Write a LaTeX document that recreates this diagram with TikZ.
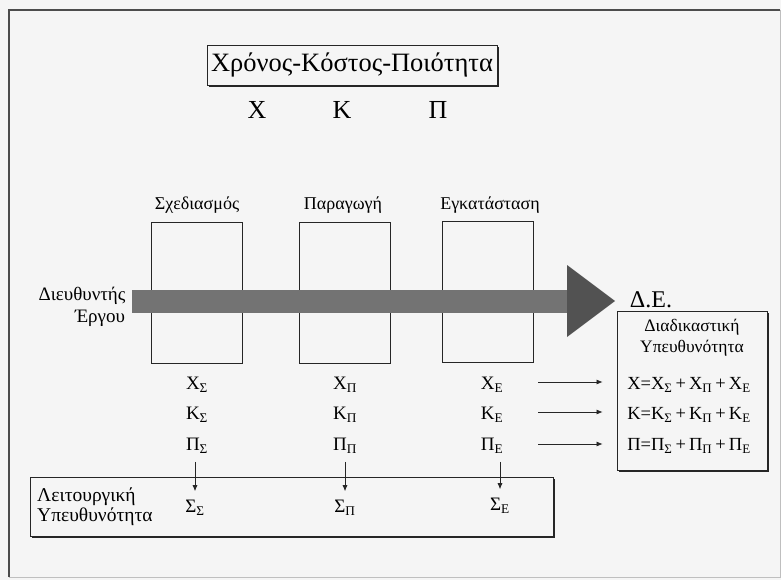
\documentclass[tikz,border=0pt]{standalone}
\usepackage{fontspec}
\setmainfont{Liberation Serif}
\usetikzlibrary{shadows,arrows.meta}
\tikzset{
  boxline/.style={draw=black!85, line width=0.8pt},
  shbox/.style={boxline, fill=black!4, drop shadow={shadow xshift=1.6pt, shadow yshift=-1.6pt, fill=black!85, opacity=1}},
  phasebox/.style={boxline, minimum width=91pt, minimum height=141pt, inner sep=0pt},
  txt/.style={inner sep=0pt, font=\fontsize{19}{22}\selectfont},
  eqtxt/.style={inner sep=0pt, font=\fontsize{18.5}{22}\selectfont},
  small/.style={inner sep=0pt, font=\fontsize{18}{21}\selectfont},
  big/.style={inner sep=0pt, font=\fontsize{26}{30}\selectfont},
  arr/.style={draw=black!85, line width=0.7pt, -{Latex[length=6pt,width=5pt]}},
}
\begin{document}
\begin{tikzpicture}[x=1pt,y=-1pt]
\fill[black!4] (0,0) rectangle (781,580);
\useasboundingbox (0,0) rectangle (781,580);
% outer frame
\draw[black!70, line width=1.1pt] (9,577) -- (9,10) -- (780,10);
\draw[black!25, line width=0.8pt] (780,10) -- (780,577) -- (9,577);

% title
\node[shbox, minimum width=290pt, minimum height=40pt, inner sep=0pt, font=\fontsize{26.5}{30}\selectfont] (title) at (352,65) {Χρόνος-Κόστος-Ποιότητα};
\node[big] (X) at (257,110) {X};
\node[big] (K) at (342,110) {K};
\node[big] (P) at (438,110) {Π};

% phases
\node[small] (lS) at (197,205) {Σχεδιασμός};
\node[small] (lP) at (343,205) {Παραγωγή};
\node[small] (lE) at (490,205) {Εγκατάσταση};
\node[phasebox] (bS) at (196.5,292.5) {};
\node[phasebox] (bP) at (344.5,292.5) {};
\node[phasebox] (bE) at (487.5,291.5) {};

% big arrow
\fill[black!55] (132,290) rectangle (568,313);
\fill[black!68] (567,265) -- (615,301) -- (567,337) -- cycle;

\node[inner sep=0pt, font=\fontsize{19}{22}\selectfont] (dir1) at (82,296) {Διευθυντής};
\node[inner sep=0pt, font=\fontsize{19}{22}\selectfont] (dir2) at (100,318) {Έργου};
\node[inner sep=0pt, font=\fontsize{24}{28}\selectfont] (DE) at (651,300) {Δ.Ε.};

% right box
\node[shbox, minimum width=150pt, minimum height=159pt, inner sep=0pt] (rbox) at (692,390.5) {};
\node[inner sep=0pt, font=\fontsize{17.5}{20}\selectfont] (r1) at (692,327) {Διαδικαστική};
\node[inner sep=0pt, font=\fontsize{17.5}{20}\selectfont] (r2) at (692,348) {Υπευθυνότητα};
\node[eqtxt] (eqX) at (689,385) {X=X\textsubscript{Σ}\,+\,X\textsubscript{Π}\,+\,X\textsubscript{E}};
\node[eqtxt] (eqK) at (689,415) {K=K\textsubscript{Σ}\,+\,K\textsubscript{Π}\,+\,K\textsubscript{E}};
\node[eqtxt] (eqP) at (689,446) {Π=Π\textsubscript{Σ}\,+\,Π\textsubscript{Π}\,+\,Π\textsubscript{E}};

% column values
\node[txt] (XS) at (197,385) {X\textsubscript{Σ}};
\node[txt] (KS) at (197,415) {K\textsubscript{Σ}};
\node[txt] (PS) at (197,446) {Π\textsubscript{Σ}};
\node[txt] (XP) at (345,385) {X\textsubscript{Π}};
\node[txt] (KP) at (345,415) {K\textsubscript{Π}};
\node[txt] (PP) at (345,446) {Π\textsubscript{Π}};
\node[txt] (XE) at (492,385) {X\textsubscript{E}};
\node[txt] (KE) at (492,415) {K\textsubscript{E}};
\node[txt] (PE) at (492,446) {Π\textsubscript{E}};
\coordinate (aX) at (492,382);
\coordinate (aK) at (492,412);
\coordinate (aP) at (492,444);

% bottom box
\node[shbox, minimum width=523pt, minimum height=59pt, inner sep=0pt] (bbox) at (291.5,506.5) {};
\node[inner sep=0pt, font=\fontsize{19.5}{22}\selectfont, anchor=west] (f1) at (37,497) {Λειτουργική};
\node[inner sep=0pt, font=\fontsize{19.5}{22}\selectfont, anchor=west] (f2) at (37,517) {Υπευθυνότητα};
\node[txt] (SS) at (195,508) {Σ\textsubscript{Σ}};
\node[txt] (SP) at (345,508) {Σ\textsubscript{Π}};
\node[txt] (SE) at (500,506) {Σ\textsubscript{E}};

% connectors
\draw[arr, shorten <=46pt, shorten >=14pt] (aX) -- (aX -| rbox.west);
\draw[arr, shorten <=46pt, shorten >=14pt] (aK) -- (aK -| rbox.west);
\draw[arr, shorten <=46pt, shorten >=14pt] (aP) -- (aP -| rbox.west);
\draw[arr, shorten <=8pt, shorten >=9pt] (PS.south -| SS.north) -- (SS.north);
\draw[arr, shorten <=8pt, shorten >=9pt] (PP.south -| SP.north) -- (SP.north);
\draw[arr, shorten <=8pt, shorten >=9pt] (PE.south -| SE.north) -- (SE.north);
\end{tikzpicture}
\end{document}
